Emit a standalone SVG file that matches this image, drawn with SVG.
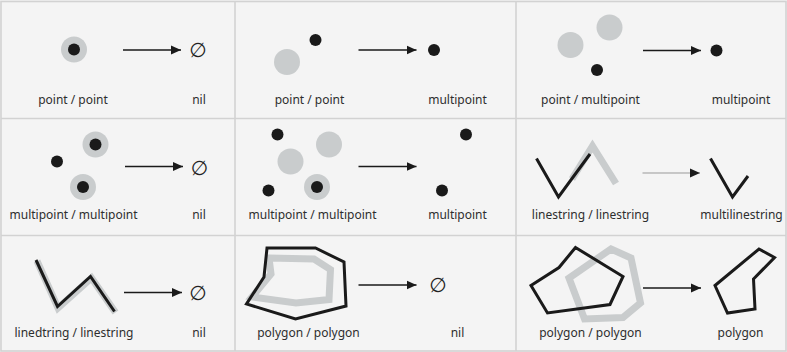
<svg xmlns="http://www.w3.org/2000/svg" width="787" height="352" viewBox="0 0 787 352">
  <defs>
    <marker id="head" markerUnits="userSpaceOnUse" markerWidth="10" markerHeight="10" refX="10" refY="5" orient="auto">
      <path d="M0,0.5 L10,5 L0,9.5 Z" fill="#1a1a1a"/>
    </marker>
    <style>
      .lbl { font-family: "Noto Sans", "Open Sans", sans-serif; font-size: 12px; fill: #2e2e2e; text-anchor: middle; }
      .empty { font-family: "DejaVu Sans", sans-serif; font-size: 20px; fill: #222; text-anchor: middle; }
      .pt { fill: #1a1a1a; }
      .ghost { fill: #c9cccd; }
      .ln { fill: none; stroke: #1a1a1a; stroke-width: 3; stroke-linejoin: miter; }
      .gln { fill: none; stroke: #c9cccd; stroke-width: 7; stroke-linejoin: miter; }
      .arrow { stroke: #1a1a1a; stroke-width: 1.3; fill: none; }
      .arrow.light { stroke: #999; stroke-width: 1; }
      .grid { stroke: #d2d2d2; stroke-width: 1.6; fill: none; }
    </style>
  </defs>

  <!-- background and table grid -->
  <rect x="0" y="0" width="787" height="352" fill="#f4f4f4"/>
  <g id="grid">
    <rect class="grid" x="1" y="1.5" width="785" height="349.5"/>
    <line class="grid" x1="235" y1="1.5" x2="235" y2="351"/>
    <line class="grid" x1="516" y1="1.5" x2="516" y2="351"/>
    <line class="grid" x1="1" y1="118.5" x2="786" y2="118.5"/>
    <line class="grid" x1="1" y1="235.5" x2="786" y2="235.5"/>
  </g>

  <!-- row 1 -->
  <g id="cell-point-point-nil">
    <circle class="ghost" cx="74" cy="49.5" r="13"/>
    <circle class="pt" cx="74" cy="49.5" r="6"/>
    <text class="empty" x="198" y="57">∅</text>
    <text class="lbl" x="73" y="104">point / point</text>
    <text class="lbl" x="199" y="104">nil</text>
  </g>
  <g id="cell-point-point-multipoint">
    <circle class="ghost" cx="287" cy="62" r="13"/>
    <circle class="pt" cx="315.5" cy="40" r="6"/>
    <circle class="pt" cx="434" cy="50" r="6"/>
    <text class="lbl" x="309.5" y="104">point / point</text>
    <text class="lbl" x="457.5" y="104">multipoint</text>
  </g>
  <g id="cell-point-multipoint-multipoint">
    <circle class="ghost" cx="570.5" cy="45" r="13"/>
    <circle class="ghost" cx="609.5" cy="27.5" r="13"/>
    <circle class="pt" cx="597" cy="70" r="6"/>
    <circle class="pt" cx="716.5" cy="50.5" r="6"/>
    <text class="lbl" x="590.5" y="104">point / multipoint</text>
    <text class="lbl" x="741" y="104">multipoint</text>
  </g>

  <!-- row 2 -->
  <g id="cell-multipoint-multipoint-nil">
    <circle class="pt" cx="57" cy="161.5" r="6"/>
    <circle class="ghost" cx="95.5" cy="144.5" r="13"/>
    <circle class="pt" cx="95.5" cy="144.5" r="6"/>
    <circle class="ghost" cx="83" cy="187" r="13"/>
    <circle class="pt" cx="83" cy="187" r="6"/>
    <text class="empty" x="199.5" y="174.5">∅</text>
    <text class="lbl" x="73.5" y="219">multipoint / multipoint</text>
    <text class="lbl" x="199" y="219">nil</text>
  </g>
  <g id="cell-multipoint-multipoint-multipoint">
    <circle class="ghost" cx="290.5" cy="161.5" r="13"/>
    <circle class="ghost" cx="329" cy="144.5" r="13"/>
    <circle class="ghost" cx="317" cy="187" r="13"/>
    <circle class="pt" cx="317" cy="187" r="6"/>
    <circle class="pt" cx="277.5" cy="134.5" r="6"/>
    <circle class="pt" cx="268.5" cy="190.5" r="6"/>
    <circle class="pt" cx="466" cy="134.5" r="6"/>
    <circle class="pt" cx="442" cy="190.5" r="6"/>
    <text class="lbl" x="312.5" y="219">multipoint / multipoint</text>
    <text class="lbl" x="457.5" y="219">multipoint</text>
  </g>
  <g id="cell-linestring-linestring-multilinestring">
    <polyline class="gln" points="572,179 592.5,146 616,183.5"/>
    <polyline class="ln" points="536.5,158.5 558.5,197 590,154"/>
    <polyline class="ln" points="710.5,158.5 732.5,197 748,176"/>
    <text class="lbl" x="590.5" y="219">linestring / linestring</text>
    <text class="lbl" x="741.5" y="219">multilinestring</text>
  </g>

  <!-- row 3 -->
  <g id="cell-linestring-linestring-nil">
    <polyline class="gln" points="37,261 58,308 91.5,278 115.5,312.5" stroke-width="8"/>
    <polyline class="ln" points="36,260 57.5,306.5 90.5,276.5 114.5,311.5"/>
    <text class="empty" x="198" y="299.5">∅</text>
    <text class="lbl" x="74" y="337">linedtring / linestring</text>
    <text class="lbl" x="199" y="337">nil</text>
  </g>
  <g id="cell-polygon-polygon-nil">
    <polygon class="gln" points="269,258 314,259 330.5,269.5 329,299.5 296,303 252,297 271,274" stroke-width="6.5"/>
    <polygon class="ln" points="267,248 315.5,248 344,262 346,306 295.5,319 246.5,304 264,277"/>
    <text class="empty" x="438" y="292">∅</text>
    <text class="lbl" x="308.5" y="337">polygon / polygon</text>
    <text class="lbl" x="457.5" y="337">nil</text>
  </g>
  <g id="cell-polygon-polygon-polygon">
    <polygon class="gln" points="611,249 631,258 640.5,303 623,317.5 584.5,319 569,278"/>
    <polygon class="ln" points="575.5,247.5 623,276.5 610,304.5 547.5,313 531,285.5 559,267.5"/>
    <polygon class="ln" points="759,249 774.5,257.5 753.5,279 755,309 727.5,313 715,285.5"/>
    <text class="lbl" x="590.5" y="337">polygon / polygon</text>
    <text class="lbl" x="740.5" y="337">polygon</text>
  </g>

  <!-- transition arrows -->
  <g id="connectors">
    <line class="arrow" x1="123" y1="50" x2="181" y2="50" marker-end="url(#head)"/>
    <line class="arrow" x1="358.5" y1="50" x2="416.5" y2="50" marker-end="url(#head)"/>
    <line class="arrow" x1="643" y1="50.5" x2="701" y2="50.5" marker-end="url(#head)"/>
    <line class="arrow" x1="125" y1="166.5" x2="183" y2="166.5" marker-end="url(#head)"/>
    <line class="arrow" x1="358.5" y1="166.5" x2="416.5" y2="166.5" marker-end="url(#head)"/>
    <line class="arrow light" x1="642.5" y1="173" x2="700" y2="173" marker-end="url(#head)"/>
    <line class="arrow" x1="124" y1="292.5" x2="182" y2="292.5" marker-end="url(#head)"/>
    <line class="arrow" x1="358.5" y1="285" x2="416.5" y2="285" marker-end="url(#head)"/>
    <line class="arrow" x1="643" y1="288" x2="701" y2="288" marker-end="url(#head)"/>
  </g>
</svg>
